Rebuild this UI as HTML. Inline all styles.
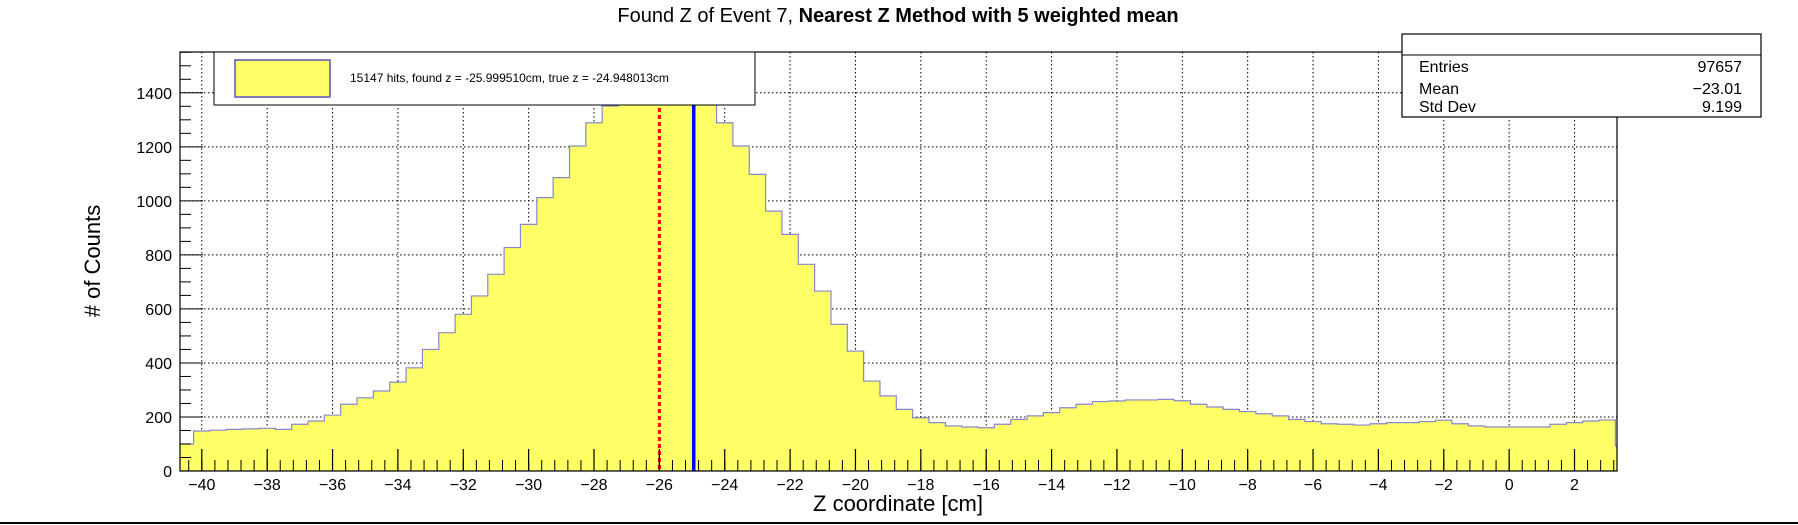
<!DOCTYPE html>
<html><head><meta charset="utf-8"><style>
html,body{margin:0;padding:0;background:#fff;}
svg{display:block;font-family:"Liberation Sans",sans-serif;}
</style></head><body>
<svg id="c" width="1798" height="525" xmlns="http://www.w3.org/2000/svg"></svg>
<script>
const binStart = -40.75;
const binWidth = 0.5;
const counts = [100,148,151,154,156,158,154,173,185,207,247,271,296,329,382,450,512,580,648,728,827,913,1012,1086,1203,1289,1351,1450,1550,1600,1620,1600,1450,1289,1203,1098,962,876,765,666,543,444,333,278,228,197,179,167,163,160,173,191,204,216,234,247,257,259,263,263,265,260,247,237,228,220,212,204,191,183,175,173,170,175,179,179,183,188,175,167,163,163,163,163,173,179,185,189,93];
const xTicks = [-40,-38,-36,-34,-32,-30,-28,-26,-24,-22,-20,-18,-16,-14,-12,-10,-8,-6,-4,-2,0,2];
const yTicks = [0,200,400,600,800,1000,1200,1400];
const foundZ = [-25.999510];
const trueZ = [-24.948013];

const NS="http://www.w3.org/2000/svg";
const svg=document.getElementById('c');
const L=180,R=1617,T=52,B=471;
const xmin=-40.667,xmax=3.3,ymin=0,ymax=1551;
const X=v=>L+(v-xmin)/(xmax-xmin)*(R-L);
const Y=v=>B-(v-ymin)/(ymax-ymin)*(B-T);
function mk(tag,attrs,parent){const e=document.createElementNS(NS,tag);for(const k in attrs)e.setAttribute(k,attrs[k]);(parent||svg).appendChild(e);return e;}

const defs=mk('defs',{});
const cp=mk('clipPath',{id:'pc'},defs);
mk('rect',{x:L,y:T,width:R-L,height:B-T},cp);

const grid=mk('g',{});


xTicks.forEach(t=>{mk('line',{x1:X(t),x2:X(t),y1:T,y2:B,stroke:'#000','stroke-width':1,'stroke-dasharray':'1.5,2.5'},grid);});
yTicks.forEach(t=>{mk('line',{x1:L,x2:R,y1:Y(t),y2:Y(t),stroke:'#000','stroke-width':1,'stroke-dasharray':'1.5,2.5'},grid);});

let d='M'+X(binStart)+','+Y(0);
counts.forEach((c,i)=>{const x0=X(binStart+i*binWidth),x1=X(binStart+(i+1)*binWidth);d+=' L'+x0+','+Y(c)+' L'+x1+','+Y(c);});
d+=' L'+X(binStart+counts.length*binWidth)+','+Y(0)+' Z';
const hist=mk('path',{d:d,fill:'#ffff66',stroke:'#8888cc','stroke-width':1.2,'clip-path':'url(#pc)'});



foundZ.forEach(z=>{const l=mk('line',{x1:X(z),x2:X(z),y1:T,y2:B,stroke:'#ff0000','stroke-width':3,'stroke-dasharray':'4,3'});

});
trueZ.forEach(z=>{const l=mk('line',{x1:X(z),x2:X(z),y1:T,y2:B,stroke:'#0000ff','stroke-width':3.5});

});

const fr=mk('rect',{x:L,y:T,width:R-L,height:B-T,fill:'none',stroke:'#000','stroke-width':1.2});



const xa=mk('g',{});


for(let v=-40.4;v<=3.3;v+=0.4){mk('line',{x1:X(v),x2:X(v),y1:B,y2:B-11,stroke:'#000','stroke-width':1},xa);}
xTicks.forEach(t=>{mk('line',{x1:X(t),x2:X(t),y1:B,y2:B-22,stroke:'#000','stroke-width':1.2},xa);
const tx=mk('text',{x:X(t),y:490,'font-size':16,'text-anchor':'middle'},xa);tx.textContent=(t<0?'\u2212'+(-t):t);});
const ya=mk('g',{});


for(let v=0;v<=1550;v+=50){mk('line',{x1:L,x2:L+(v%200===0?23:11),y1:Y(v),y2:Y(v),stroke:'#000','stroke-width':1},ya);}
yTicks.forEach(t=>{const tx=mk('text',{x:172,y:Y(t)+6,'font-size':16,'text-anchor':'end'},ya);tx.textContent=t;});

const tt=mk('text',{x:898,y:22,'font-size':20,'text-anchor':'middle'});


tt.innerHTML='Found Z of Event 7, <tspan font-weight="bold">Nearest Z Method with 5 weighted mean</tspan>';
const xt=mk('text',{x:898,y:511,'font-size':22,'text-anchor':'middle'});


xt.textContent='Z coordinate [cm]';
const yt=mk('text',{x:0,y:0,'font-size':22,'text-anchor':'middle',transform:'translate(100,261) rotate(-90)'});


yt.textContent='# of Counts';

const lg=mk('g',{});


mk('rect',{x:214,y:52,width:541,height:53,fill:'#fff',stroke:'#000','stroke-width':1},lg);
mk('rect',{x:235,y:60,width:95,height:37,fill:'#ffff66',stroke:'#5555bb','stroke-width':1.5},lg);
const lt=mk('text',{x:350,y:82,'font-size':12},lg);
lt.textContent='15147 hits, found z = -25.999510cm, true z = -24.948013cm';

const st=mk('g',{});


mk('rect',{x:1402,y:34,width:359,height:83,fill:'#fff',stroke:'#000','stroke-width':1.2},st);
mk('line',{x1:1402,x2:1761,y1:55,y2:55,stroke:'#000','stroke-width':1},st);
[['Entries','97657',72],['Mean','\u221223.01',94],['Std Dev','9.199',112]].forEach(r=>{
const a=mk('text',{x:1419,y:r[2],'font-size':16},st);a.textContent=r[0];
const b=mk('text',{x:1742,y:r[2],'font-size':16,'text-anchor':'end'},st);b.textContent=r[1];});

const bl=mk('line',{x1:0,x2:1798,y1:523,y2:523,stroke:'#000','stroke-width':2});


</script>
</body></html>
